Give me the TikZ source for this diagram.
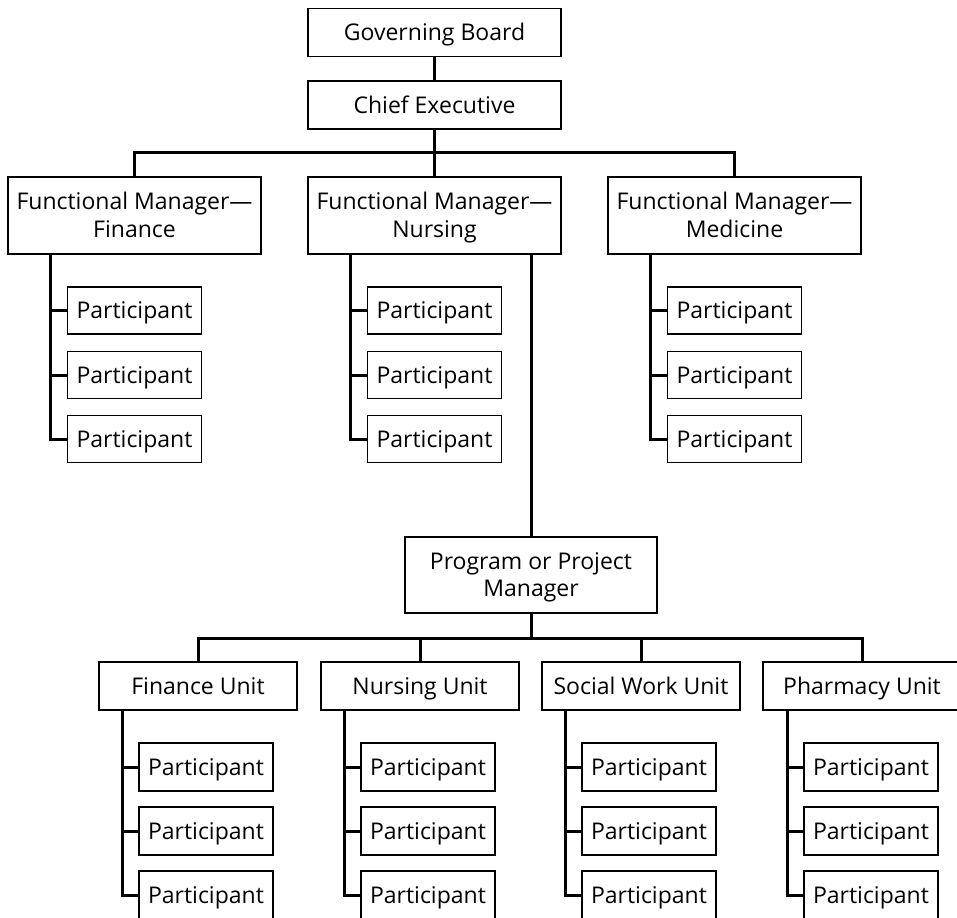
\documentclass[tikz,border=0pt]{standalone}
\usepackage{fontspec}
\setmainfont{Open Sans}
\begin{document}
\begin{tikzpicture}[x=1pt,y=-1pt,
  box/.style={draw, line width=1.3pt, inner sep=0pt, align=center,
              font=\fontsize{23}{27.5}\selectfont,
              text height=16.4pt, text depth=0pt},
  mgr/.style={box, minimum width=253, minimum height=77, text height=43.9pt},
  top/.style={box, minimum width=253, minimum height=48},
  unitbox/.style={box, minimum width=198, minimum height=48},
  pbox/.style={box, minimum width=134, minimum height=47},
  conn/.style={line width=3pt}]
\useasboundingbox (0,0) rectangle (957,917);
\clip (0,0) rectangle (957,917);

% Executive levels
\node[top] (gb) at (434.5,32.5) {Governing Board};
\node[top] (ce) at (434.5,105) {Chief Executive};

% Functional managers
\node[mgr] (fmf) at (134.5,215.5) {Functional Manager—\\Finance};
\node[mgr] (fmn) at (434.5,215.5) {Functional Manager—\\Nursing};
\node[mgr] (fmm) at (734.5,215.5) {Functional Manager—\\Medicine};

\coordinate (busA) at (0,153);
\draw[conn] (gb.south) -- (ce.north);
\draw[conn] (ce.south) -- (fmn.north);
\draw[conn] (fmf.north) -- (fmf.north |- busA) -- (fmm.north |- busA) -- (fmm.north);

% Participants under each functional manager
\foreach \n/\cx in {fmf/134.5, fmn/434.5, fmm/734.5} {
  \foreach \i/\cy in {1/310.5, 2/375, 3/439}
    \node[pbox] (\n-p\i) at (\cx,\cy) {Participant};
  \coordinate (\n-v) at ([xshift=-16pt]\n-p1.west);
  \draw[conn] (\n-v |- \n.south) -- (\n-v |- \n-p3.west) -- (\n-p3.west);
  \draw[conn] (\n-v |- \n-p1.west) -- (\n-p1.west);
  \draw[conn] (\n-v |- \n-p2.west) -- (\n-p2.west);
}

% Program / project manager
\node[mgr, minimum width=252, minimum height=76] (pm) at (531,575) {Program or Project\\Manager};
\coordinate (nv) at (531,0);
\draw[conn] (nv |- fmn.south) -- (pm.north);

% Units
\node[unitbox] (ufin) at (198,686) {Finance Unit};
\node[unitbox] (unur) at (420,686) {Nursing Unit};
\node[unitbox] (usw)  at (641,686) {Social Work Unit};
\node[unitbox] (uph)  at (862,686) {Pharmacy Unit};

\coordinate (busB) at (0,638);
\draw[conn] (pm.south) -- (pm.south |- busB);
\draw[conn] (ufin.north) -- (ufin.north |- busB) -- (uph.north |- busB) -- (uph.north);
\draw[conn] (unur.north) -- (unur.north |- busB);
\draw[conn] (usw.north) -- (usw.north |- busB);

% Participants under each unit
\foreach \n/\cx in {ufin/206, unur/428, usw/649, uph/871} {
  \foreach \i/\cy in {1/767, 2/831, 3/895}
    \node[pbox, minimum height=48] (\n-p\i) at (\cx,\cy) {Participant};
  \coordinate (\n-v) at ([xshift=-16pt]\n-p1.west);
  \draw[conn] (\n-v |- \n.south) -- (\n-v |- \n-p3.west) -- (\n-p3.west);
  \draw[conn] (\n-v |- \n-p1.west) -- (\n-p1.west);
  \draw[conn] (\n-v |- \n-p2.west) -- (\n-p2.west);
}
\end{tikzpicture}
\end{document}
